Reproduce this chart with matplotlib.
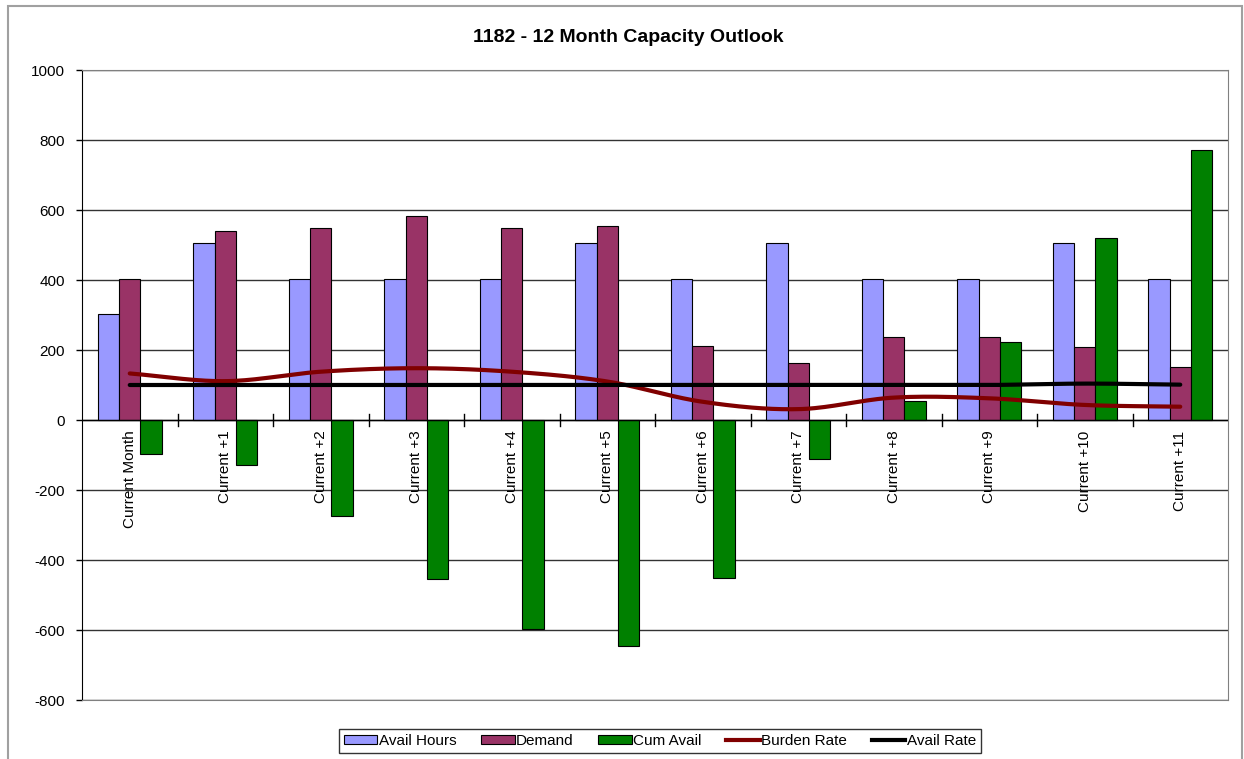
import numpy as np
import matplotlib
matplotlib.use('Agg')
import matplotlib.pyplot as plt
from matplotlib.patches import Patch, Rectangle
from matplotlib.lines import Line2D

plt.rcParams['font.family'] = ['Liberation Sans', 'DejaVu Sans']
plt.rcParams['axes.unicode_minus'] = False

# data
categories = ['Current Month', 'Current +1', 'Current +2', 'Current +3', 'Current +4',
              'Current +5', 'Current +6', 'Current +7', 'Current +8', 'Current +9',
              'Current +10', 'Current +11']
avail_hours = [302, 505, 403, 403, 403, 505, 403, 505, 403, 403, 505, 403]
demand = [404, 540, 550, 583, 550, 554, 211, 164, 236, 236, 208, 152]
cum_avail = [-97, -129, -274, -454, -597, -646, -451, -112, 55, 223, 520, 771]
burden_rate = [133, 111, 138, 148, 138, 110, 52, 31, 64, 62, 43, 38]
avail_rate = [100, 100, 100, 100, 100, 100, 100, 100, 100, 100, 104, 101]


def smooth(x, y, n=30):
    # Catmull-Rom curve through the points, like Excel's smoothed line
    x = np.asarray(x, float)
    y = np.asarray(y, float)
    px = np.concatenate([[2 * x[0] - x[1]], x, [2 * x[-1] - x[-2]]])
    py = np.concatenate([[2 * y[0] - y[1]], y, [2 * y[-1] - y[-2]]])
    t = np.linspace(0, 1, n)
    xs, ys = [], []
    for i in range(1, len(px) - 2):
        for p, out in ((px, xs), (py, ys)):
            p0, p1, p2, p3 = p[i - 1], p[i], p[i + 1], p[i + 2]
            out.extend(0.5 * (2 * p1 + (-p0 + p2) * t
                              + (2 * p0 - 5 * p1 + 4 * p2 - p3) * t ** 2
                              + (-p0 + 3 * p1 - 3 * p2 + p3) * t ** 3))
    return np.array(xs), np.array(ys)


W, H = 1244, 759
fig = plt.figure(figsize=(W / 100, H / 100), dpi=100)
ax = fig.add_axes([82 / W, 1 - 700 / H, (1228 - 82) / W, (700 - 70) / H])

x = np.arange(len(categories))
bw = 1 / 4.5
ax.bar(x - bw, avail_hours, bw, color='#9999FF', edgecolor='black', linewidth=0.8, zorder=3)
ax.bar(x, demand, bw, color='#993366', edgecolor='black', linewidth=0.8, zorder=3)
ax.bar(x + bw, cum_avail, bw, color='#008000', edgecolor='black', linewidth=0.8, zorder=3)

sx, sy = smooth(x, burden_rate)
ax.plot(sx, sy, color='#800000', lw=3, solid_capstyle='round', zorder=4)
sx, sy = smooth(x, avail_rate)
ax.plot(sx, sy, color='black', lw=3, solid_capstyle='round', zorder=5)

ax.set_xlim(-0.5, len(categories) - 0.5)
ax.set_ylim(-800, 1000)
ax.set_yticks(range(-800, 1001, 200))
ax.tick_params(axis='y', direction='out', length=4.5, width=1, labelsize=11, pad=8)
ax.yaxis.grid(True, color='#333333', linewidth=1, zorder=0)
ax.set_xticks([])

for s in ['top', 'right', 'bottom']:
    ax.spines[s].set_color('#808080')
ax.spines['left'].set_color('black')
ax.axhline(0, color='black', lw=1, zorder=3)

# category ticks crossing the zero line, labels hanging below it
for b in np.arange(0.5, len(categories) - 0.5, 1):
    ax.plot([b, b], [-16, 16], color='black', lw=1, zorder=3)
for xi, lab in zip(x, categories):
    ax.annotate(lab, (xi, 0), xytext=(0, -7.5), textcoords='offset points',
                rotation=90, ha='center', va='top', fontsize=11)

fig.text(628 / W, 1 - 38 / H, '1182 - 12 Month Capacity Outlook', ha='center', va='center',
         fontsize=14, fontweight='bold')

handles = [Patch(facecolor='#9999FF', edgecolor='black', lw=0.8),
           Patch(facecolor='#993366', edgecolor='black', lw=0.8),
           Patch(facecolor='#008000', edgecolor='black', lw=0.8),
           Line2D([], [], color='#800000', lw=3),
           Line2D([], [], color='black', lw=3)]
labels = ['Avail Hours', 'Demand', 'Cum Avail', 'Burden Rate', 'Avail Rate']
leg = fig.legend(handles, labels, loc='center', bbox_to_anchor=(660 / W, 1 - 741 / H),
                 ncol=5, fontsize=11, frameon=True, fancybox=False, handlelength=2.2,
                 handleheight=0.45, handletextpad=0.1, columnspacing=1.6, borderpad=0.3)
leg.get_frame().set_edgecolor('black')
leg.get_frame().set_linewidth(1)

fig.patches.append(Rectangle((8 / W, -0.02), (1242 - 8) / W, 1.02 - 6 / H, transform=fig.transFigure,
                             fill=False, edgecolor='#A0A0A0', lw=1.5))

fig.savefig('out.png', dpi=100)
